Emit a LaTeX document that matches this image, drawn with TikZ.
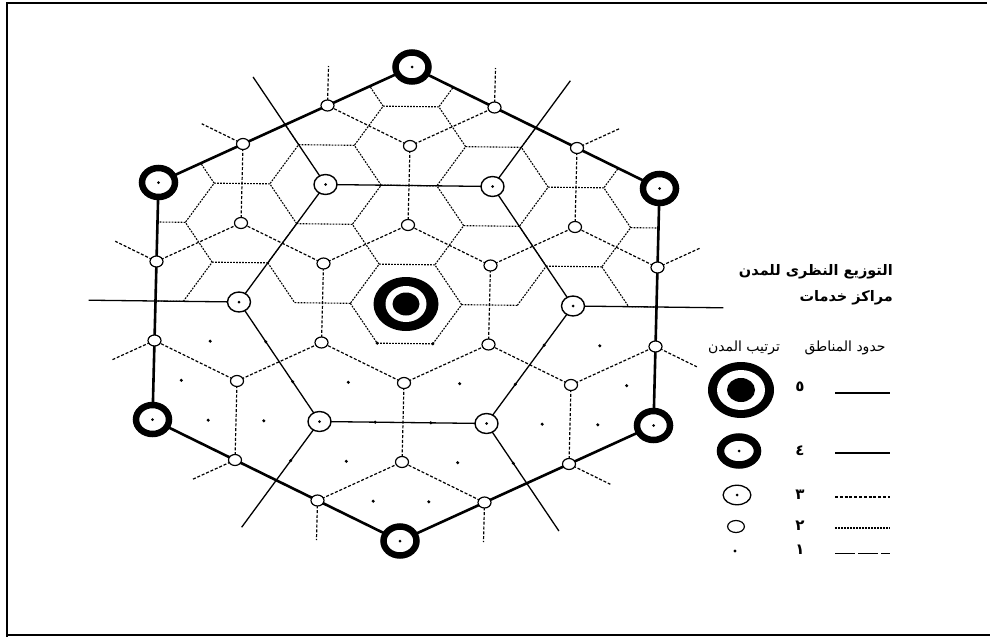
\documentclass[tikz,border=0pt]{standalone}
\usepackage{fontspec}
\usetikzlibrary{shapes.geometric,calc}
\newfontfamily\arabicfont[Script=Arabic]{DejaVu Sans}
\TeXXeTstate=1
% is lattice point (#1,#2) a centre of a drawn rank-2 boundary hexagon?
\newcommand\fineinside[3]{\pgfmathtruncatemacro#3{and(max(abs(#1),abs(#2),abs((#1)+(#2)))<=4,or(38.5*(#1)+79*(#2)>=30,and((#1)==0,(#2)==0)))}}
\tikzset{
  latt/.style={shift={(406,304)}, x={(84.5pt,38.5pt)}, y={(2pt,79pt)}},
  rfiveline/.style={line width=2.6pt, line join=round, line cap=round},
  rfourline/.style={line width=1.3pt, line join=round},
  rthreebound/.style={line width=1.2pt, dash pattern=on 3pt off 1.8pt},
  rtwobound/.style={line width=1.1pt, dash pattern=on 1.8pt off 1.2pt},
  ronebound/.style={line width=0.8pt, dash pattern=on 20pt off 3pt},
  cdot/.style={path picture={\fill[black] (path picture bounding box.center) circle (1.5pt);}},
  townfive/.style={ellipse, fill=black, inner sep=0pt, minimum width=65pt, minimum height=54pt,
    path picture={\fill[white] (path picture bounding box.center) ellipse (20.5pt and 18pt);
                  \fill[black] (path picture bounding box.center) ellipse (13.5pt and 11.5pt);}},
  legfive/.style={ellipse, fill=black, inner sep=0pt, minimum width=66pt, minimum height=56pt,
    path picture={\fill[white] (path picture bounding box.center) ellipse (24pt and 20pt);
                  \fill[black] (path picture bounding box.center) ellipse (14pt and 12pt);}},
  townfour/.style={ellipse, draw, line width=6.5pt, fill=white, inner sep=0pt,
    minimum width=33pt, minimum height=29pt, cdot},
  legfour/.style={ellipse, draw, line width=7.5pt, fill=white, inner sep=0pt,
    minimum width=37pt, minimum height=28pt, cdot},
  townthree/.style={ellipse, draw, line width=1.4pt, fill=white, inner sep=0pt,
    minimum width=23pt, minimum height=20pt, cdot},
  legthree/.style={ellipse, draw, line width=1.3pt, fill=white, inner sep=0pt,
    minimum width=27.7pt, minimum height=19.5pt, cdot},
  towntwo/.style={ellipse, draw, line width=1.2pt, fill=white, inner sep=0pt,
    minimum width=13pt, minimum height=11pt},
  legtwo/.style={ellipse, draw, line width=1.2pt, fill=white, inner sep=0pt,
    minimum width=16.8pt, minimum height=12pt},
  townone/.style={circle, fill=black, inner sep=0pt, minimum size=3.4pt},
  titletext/.style={anchor=east, inner sep=0pt, font={\arabicfont\bfseries\fontsize{14.5pt}{16pt}\selectfont}},
  headtext/.style={inner sep=0pt, font={\arabicfont\fontsize{14pt}{16pt}\selectfont}},
  numtext/.style={inner sep=0pt, font={\arabicfont\bfseries\fontsize{15pt}{17pt}\selectfont}},
}
\begin{document}
\begin{tikzpicture}[x=1pt,y=-1pt]
\useasboundingbox (0,0) rectangle (990,637);
\fill[white] (0,0) rectangle (990,637);
% frame
\draw[line width=2pt] (7,637) -- (7,3) -- (987,3);
\draw[line width=2.5pt] (7,635) -- (990,635);

% lattice coordinates
\begin{scope}[latt]
\foreach \m in {-4,...,4}{\foreach \n in {-4,...,4}{
  \pgfmathtruncatemacro\pa{\m+5}\pgfmathtruncatemacro\pb{\n+5}
  \coordinate (L\pa_\pb) at (\m,\n);
}}
\end{scope}

% rank-2 boundaries (fine honeycomb), upper half, clipped to the outer hexagon
\begin{scope}
\clip (L8_5) -- (L5_8) -- (L2_8) -- (L2_5) -- (L5_2) -- (L8_2) -- cycle;
\begin{scope}[latt]
\foreach \m in {-4,...,4}{\foreach \n in {-4,...,4}{
  \fineinside{\m}{\n}{\sP}
  \ifnum\sP=1
    \draw[rtwobound] ({\m+2/3},{\n-1/3}) -- ({\m+1/3},{\n+1/3}) -- ({\m-1/3},{\n+2/3}) -- ({\m-2/3},{\n+1/3});
    \pgfmathtruncatemacro\xm{\m-1}\fineinside{\xm}{\n}{\sQ}
    \ifnum\sQ=0 \draw[rtwobound] ({\m-2/3},{\n+1/3}) -- ({\m-1/3},{\n-1/3}); \fi
    \pgfmathtruncatemacro\yn{\n-1}\fineinside{\m}{\yn}{\sQ}
    \ifnum\sQ=0 \draw[rtwobound] ({\m-1/3},{\n-1/3}) -- ({\m+1/3},{\n-2/3}); \fi
    \pgfmathtruncatemacro\xp{\m+1}\fineinside{\xp}{\yn}{\sQ}
    \ifnum\sQ=0 \draw[rtwobound] ({\m+1/3},{\n-2/3}) -- ({\m+2/3},{\n-1/3}); \fi
  \fi
}}
\end{scope}
\end{scope}

% rank-1 towns, lower half
\begin{scope}[latt]
\foreach \u in {-9,...,9}{\foreach \v in {-9,...,9}{
  \pgfmathtruncatemacro\ok{and(and(mod((\u)-(\v),3)==0,mod(\u,3)!=0),and(max(abs(\u),abs(\v),abs((\u)+(\v)))<9,-38.5*(\u)-79*(\v)>=90))}
  \ifnum\ok=1 \fill ({\u/3},{\v/3}) circle (1.7pt); \fi
}}
\end{scope}

% rank-3 boundaries (through rank-2 towns) with outer stubs
\foreach \m in {-3,...,3}{\foreach \n in {-3,...,3}{
  \pgfmathtruncatemacro\okP{and(max(abs(\m),abs(\n),abs((\m)+(\n)))<=3,mod((\m)-(\n),3)!=0)}
  \ifnum\okP=1
    \pgfmathtruncatemacro\pa{\m+5}\pgfmathtruncatemacro\pb{\n+5}
    \foreach \dm/\dn in {1/0,0/1,-1/1,-1/0,0/-1,1/-1}{
      \pgfmathtruncatemacro\qm{\m+(\dm)}\pgfmathtruncatemacro\qn{\n+(\dn)}
      \pgfmathtruncatemacro\qd{max(abs(\qm),abs(\qn),abs((\qm)+(\qn)))}
      \pgfmathtruncatemacro\qr{mod((\qm)-(\qn),3)!=0}
      \pgfmathtruncatemacro\qa{\qm+5}\pgfmathtruncatemacro\qb{\qn+5}
      \pgfmathtruncatemacro\fwd{or(\dn==1,and(\dm==1,\dn==0))}
      \ifnum\qr=1
        \ifnum\qd<4 \ifnum\fwd=1 \draw[rthreebound] (L\pa_\pb) -- (L\qa_\qb); \fi\fi
        \ifnum\qd=4 \draw[rthreebound] (L\pa_\pb) -- ($(L\pa_\pb)!0.5!(L\qa_\qb)$); \fi
      \fi
    }
  \fi
}}

% rank-4 boundaries
\foreach \t in {7_4,6_6,4_7,3_6,4_4,6_3}{
  \coordinate (ray\t) at ($(L5_5)!1.9!(L\t)$);
  \draw[rfourline] (L\t) -- (ray\t);
}
\draw[rfourline] (L7_4) -- (L6_6) -- (L4_7) -- (L3_6) -- (L4_4) -- (L6_3) -- cycle;

% outer hexagon
\draw[rfiveline] (L8_5) -- (L5_8) -- (L2_8) -- (L2_5) -- (L5_2) -- (L8_2) -- cycle;

% rank-2 towns
\foreach \m in {-3,...,3}{\foreach \n in {-3,...,3}{
  \pgfmathtruncatemacro\okP{and(max(abs(\m),abs(\n),abs((\m)+(\n)))<=3,mod((\m)-(\n),3)!=0)}
  \ifnum\okP=1
    \pgfmathtruncatemacro\pa{\m+5}\pgfmathtruncatemacro\pb{\n+5}
    \node[towntwo] (N\pa_\pb) at (L\pa_\pb) {};
  \fi
}}
% rank-3 towns
\node[townthree] (T1) at (L7_4) {};
\node[townthree] (T2) at (L6_6) {};
\node[townthree] (T3) at (L4_7) {};
\node[townthree] (T4) at (L3_6) {};
\node[townthree] (T5) at (L4_4) {};
\node[townthree] (T6) at (L6_3) {};
% rank-4 towns
\node[townfour] (V1) at (L8_5) {};
\node[townfour] (V2) at (L5_8) {};
\node[townfour] (V3) at (L2_8) {};
\node[townfour] (V4) at (L2_5) {};
\node[townfour] (V5) at (L5_2) {};
\node[townfour] (V6) at (L8_2) {};
% rank-5 centre
\node[townfive] (C5) at (L5_5) {};

% legend
\node[titletext] (title1) at (893,272) {\beginR التوزيع النظرى للمدن\endR};
\node[titletext] (title2) at (893,298) {\beginR مراكز خدمات\endR};
\node[headtext] (headA) at (845,348) {\beginR حدود المناطق\endR};
\node[headtext] (headB) at (744,348) {\beginR ترتيب المدن\endR};

\node[legfive] (K5) at (741,390) {};
\node[legfour] (K4) at (739,451) {};
\node[legthree] (K3) at (737,495) {};
\node[legtwo] (K2) at (736,526.5) {};
\node[townone] (K1) at (735,551) {};

\node[numtext] (n5) at (800,387) {\beginR ٥\endR};
\node[numtext] (n4) at (800,451) {\beginR ٤\endR};
\node[numtext] (n3) at (800,495) {\beginR ٣\endR};
\node[numtext] (n2) at (800,526) {\beginR ٢\endR};
\node[numtext] (n1) at (800,550) {\beginR ١\endR};

\coordinate (s5a) at (835,393); \coordinate (s5b) at (890,393);
\coordinate (s4a) at (835,453); \coordinate (s4b) at (890,453);
\coordinate (s3a) at (835,497); \coordinate (s3b) at (890,497);
\coordinate (s2a) at (835,528); \coordinate (s2b) at (890,528);
\coordinate (s1a) at (835,553); \coordinate (s1b) at (890,553);
\draw[line width=2pt] (s5a) -- (s5b);
\draw[rfourline] (s4a) -- (s4b);
\draw[rthreebound] (s3a) -- (s3b);
\draw[rtwobound] (s2a) -- (s2b);
\draw[ronebound] (s1a) -- (s1b);
\end{tikzpicture}
\end{document}
